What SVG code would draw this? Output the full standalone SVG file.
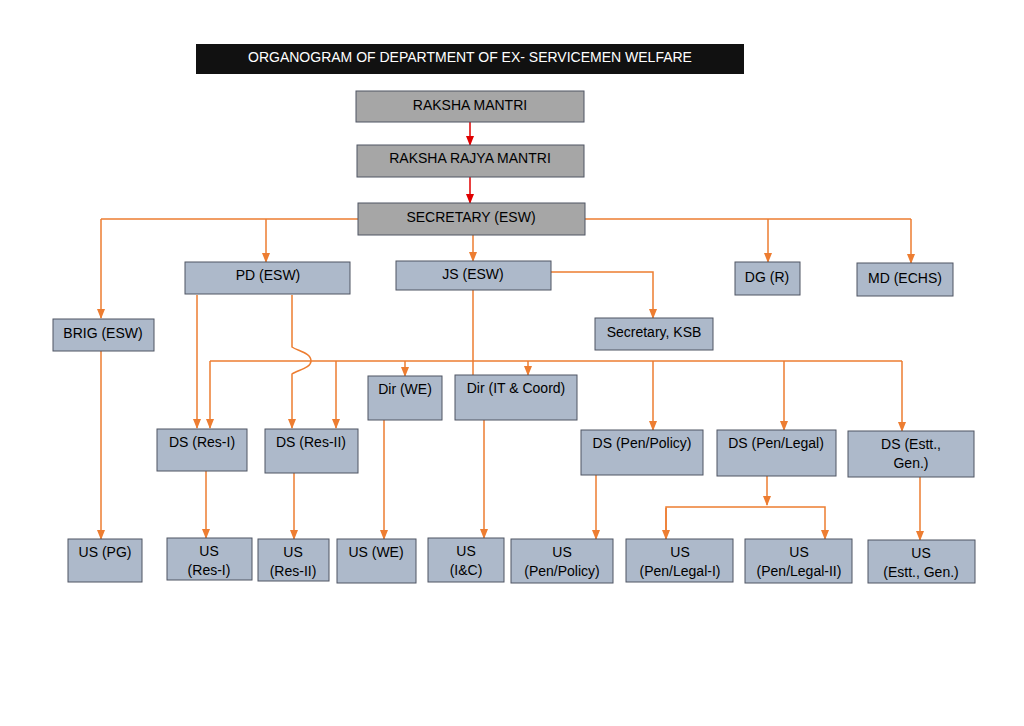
<svg xmlns="http://www.w3.org/2000/svg" width="1024" height="726" viewBox="0 0 1024 726">
<style>
.b{fill:#adb9ca;stroke:#4f5563;stroke-width:1}
.g{fill:#a6a6a6;stroke:#4f5563;stroke-width:1}
text{font-family:"Liberation Sans",Arial,sans-serif;font-size:14px;fill:#000;text-anchor:middle}
.c path{fill:none;stroke:#ed7d31;stroke-width:1.5}
.c path.r{stroke:#e00000}
</style>
<defs>
<marker id="a" markerWidth="8" markerHeight="8" refX="4" refY="6" orient="auto" markerUnits="userSpaceOnUse" viewBox="0 0 8 8"><path d="M0,0 L8,0 L4,7 z" fill="#ed7d31" transform="rotate(-90 4 4)"/></marker>
<marker id="o" markerWidth="10" markerHeight="8" refX="9" refY="4" orient="auto" markerUnits="userSpaceOnUse"><path d="M0,0 L10,4 L0,8 z" fill="#ed7d31"/></marker>
<marker id="rr" markerWidth="10" markerHeight="8" refX="9" refY="4" orient="auto" markerUnits="userSpaceOnUse"><path d="M0,0 L10,4 L0,8 z" fill="#e00000"/></marker>
</defs>
<rect width="1024" height="726" fill="#fff"/>
<g id="title"><rect x="196" y="44" width="548" height="30" fill="#111"/><text x="470" y="62" style="fill:#fff">ORGANOGRAM OF DEPARTMENT OF EX- SERVICEMEN WELFARE</text></g>
<g class="c">
<path class="r" d="M470,122V145" marker-end="url(#rr)"/>
<path class="r" d="M470,177V203" marker-end="url(#rr)"/>
<path d="M101,219H911"/>
<path d="M101,219V318" marker-end="url(#o)"/>
<path d="M266,219V262" marker-end="url(#o)"/>
<path d="M473,235V261" marker-end="url(#o)"/>
<path d="M768,219V262" marker-end="url(#o)"/>
<path d="M911,219V263" marker-end="url(#o)"/>
<path d="M551,272H653V318" marker-end="url(#o)"/>
<path d="M473,290V375"/>
<path d="M210,361H902"/>
<path d="M210,361V428" marker-end="url(#o)"/>
<path d="M336,361V428" marker-end="url(#o)"/>
<path d="M405,361V376" marker-end="url(#o)"/>
<path d="M528,361V375" marker-end="url(#o)"/>
<path d="M653,361V430" marker-end="url(#o)"/>
<path d="M784,361V430" marker-end="url(#o)"/>
<path d="M902,361V431" marker-end="url(#o)"/>
<path d="M197,295V428" marker-end="url(#o)"/>
<path d="M292,295V347C298,351 311,353 311,361C311,368 298,370 292,374V428" marker-end="url(#o)"/>
<path d="M101,351V539" marker-end="url(#o)"/>
<path d="M206,471V538" marker-end="url(#o)"/>
<path d="M294,473V539" marker-end="url(#o)"/>
<path d="M384,420V539" marker-end="url(#o)"/>
<path d="M484,420V538" marker-end="url(#o)"/>
<path d="M596,475V539" marker-end="url(#o)"/>
<path d="M767,476V505" marker-end="url(#o)"/>
<path d="M666,539V507H825V539" marker-end="url(#o)"/>
<path d="M666,508V539" marker-end="url(#o)"/>
<path d="M920,477V540" marker-end="url(#o)"/>
</g>
<g id="rm"><rect class="g" x="356" y="91" width="228" height="31"/><text x="470" y="110">RAKSHA MANTRI</text></g>
<g id="rrm"><rect class="g" x="357" y="145" width="227" height="32"/><text x="470" y="163">RAKSHA RAJYA MANTRI</text></g>
<g id="sec"><rect class="g" x="358" y="203" width="227" height="32"/><text x="471" y="222">SECRETARY (ESW)</text></g>
<g id="pd"><rect class="b" x="185" y="262" width="165" height="32"/><text x="268" y="280">PD (ESW)</text></g>
<g id="js"><rect class="b" x="396" y="261" width="155" height="29"/><text x="473" y="279">JS (ESW)</text></g>
<g id="dg"><rect class="b" x="735" y="262" width="65" height="33"/><text x="767" y="282">DG (R)</text></g>
<g id="md"><rect class="b" x="857" y="263" width="96" height="33"/><text x="905" y="283">MD (ECHS)</text></g>
<g id="brig"><rect class="b" x="53" y="319" width="101" height="32"/><text x="103" y="338">BRIG (ESW)</text></g>
<g id="ksb"><rect class="b" x="595" y="318" width="118" height="32"/><text x="654" y="337">Secretary, KSB</text></g>
<g id="dirwe"><rect class="b" x="368" y="376" width="74" height="44"/><text x="405" y="394">Dir (WE)</text></g>
<g id="dirit"><rect class="b" x="455" y="375" width="122" height="45"/><text x="516" y="393">Dir (IT &amp; Coord)</text></g>
<g id="dsr1"><rect class="b" x="157" y="429" width="90" height="42"/><text x="202" y="447">DS (Res-I)</text></g>
<g id="dsr2"><rect class="b" x="265" y="429" width="93" height="44"/><text x="311" y="447">DS (Res-II)</text></g>
<g id="dspp"><rect class="b" x="581" y="430" width="122" height="45"/><text x="642" y="448">DS (Pen/Policy)</text></g>
<g id="dspl"><rect class="b" x="717" y="430" width="119" height="46"/><text x="776" y="448">DS (Pen/Legal)</text></g>
<g id="dse"><rect class="b" x="848" y="431" width="126" height="46"/><text x="911" y="449">DS (Estt.,</text><text x="911" y="468">Gen.)</text></g>
<g id="uspg"><rect class="b" x="68" y="539" width="74" height="43"/><text x="105" y="557">US (PG)</text></g>
<g id="usr1"><rect class="b" x="167" y="538" width="85" height="42"/><text x="209" y="556">US</text><text x="209" y="575">(Res-I)</text></g>
<g id="usr2"><rect class="b" x="258" y="539" width="71" height="42"/><text x="293" y="557">US</text><text x="293" y="576">(Res-II)</text></g>
<g id="uswe"><rect class="b" x="337" y="539" width="79" height="44"/><text x="376" y="557">US (WE)</text></g>
<g id="usic"><rect class="b" x="428" y="538" width="76" height="44"/><text x="466" y="556">US</text><text x="466" y="575">(I&amp;C)</text></g>
<g id="uspp"><rect class="b" x="511" y="539" width="102" height="44"/><text x="562" y="557">US</text><text x="562" y="576">(Pen/Policy)</text></g>
<g id="uspl1"><rect class="b" x="626" y="539" width="107" height="43"/><text x="680" y="557">US</text><text x="680" y="576">(Pen/Legal-I)</text></g>
<g id="uspl2"><rect class="b" x="745" y="539" width="107" height="44"/><text x="799" y="557">US</text><text x="799" y="576">(Pen/Legal-II)</text></g>
<g id="use"><rect class="b" x="868" y="540" width="107" height="43"/><text x="921" y="558">US</text><text x="921" y="577">(Estt., Gen.)</text></g>
</svg>
